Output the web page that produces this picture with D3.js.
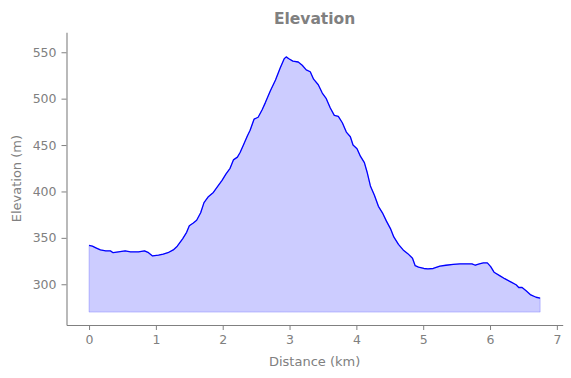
<html>
<head>
<script src="https://d3js.org/d3.v7.min.js"></script>
<style>
body { margin: 0; background: #fff; }
svg { display: block; font-family: 'DejaVu Sans', sans-serif; }
</style>
</head>
<body>
<div id="chart"></div>
<script>

// distance along the track (km)
var distance = [0, 0.05, 0.11, 0.17, 0.25, 0.32, 0.36, 0.44, 0.54, 0.62, 0.74, 0.83, 0.89, 0.95,
  1.04, 1.11, 1.18, 1.26, 1.32, 1.40, 1.46, 1.50, 1.56, 1.61, 1.67, 1.72, 1.78, 1.86, 1.93, 1.99,
  2.05, 2.11, 2.16, 2.22, 2.26, 2.31, 2.37, 2.41, 2.47, 2.53, 2.59, 2.64, 2.71, 2.79, 2.86, 2.92, 2.95, 2.99,
  3.05, 3.13, 3.19, 3.25, 3.31, 3.36, 3.43, 3.49, 3.55, 3.61, 3.67, 3.73, 3.79, 3.85, 3.91, 3.95,
  4.01, 4.06, 4.12, 4.16, 4.21, 4.27, 4.33, 4.39, 4.45, 4.51, 4.56, 4.63, 4.70, 4.77, 4.84, 4.88, 4.93,
  5.01, 5.07, 5.15, 5.25, 5.34, 5.45, 5.55, 5.67, 5.73, 5.78, 5.84, 5.90, 5.96,
  6.01, 6.06, 6.15, 6.22, 6.31, 6.39, 6.43, 6.48, 6.54, 6.61, 6.69, 6.75];

// elevation (m)
var elevation = [342, 341, 339, 337, 336, 336, 334, 335, 336, 335, 335, 336, 334, 330.5,
  331.5, 332.5, 334, 337, 341, 349, 356, 363, 366, 369, 377, 388, 394, 399, 406, 412,
  419, 425, 434, 437, 442, 450, 460, 466, 478, 480, 488, 496, 508, 520, 533, 543, 545, 543,
  540.5, 539.5, 536, 531, 529, 521, 515, 506, 500, 490, 482, 481, 474, 464, 459, 450,
  446, 438, 431, 421, 406, 396, 384, 377, 368, 360, 351, 343, 337, 333, 328, 320, 318.5,
  317, 316.5, 317, 319.5, 320.5, 321.5, 322, 322, 322, 320.5, 322, 323, 323,
  319, 313, 309, 306, 302.5, 299.5, 296.5, 296.5, 293, 288.5, 286, 285];

var baseline = 270;
var xTicks = [0, 1, 2, 3, 4, 5, 6, 7];
var yTicks = [300, 350, 400, 450, 500, 550];

var width = 571, height = 378;
var mLeft = 66.5, mRight = 562.7, mTop = 32.3, mBottom = 325;
var grey = "#808080";

var points = distance.map((d, i) => ({ x: d, y: elevation[i] }));

var svg = d3.select("#chart").append("svg").attr("width", width).attr("height", height);

var xScale = d3.scaleLinear().domain([-0.3375, 7.0875]).range([mLeft, mRight]);
var yScale = d3.scaleLinear().domain([256.1, 571.5]).range([mBottom, mTop]);

// filled area down to the baseline
var area = d3.area()
  .x(d => xScale(d.x))
  .y0(yScale(baseline))
  .y1(d => yScale(d.y));

svg.append("path")
  .datum(points)
  .attr("d", area)
  .attr("fill", "rgba(0,0,255,0.2)")
  .attr("stroke", "rgba(0,0,255,0.2)")
  .attr("stroke-width", 1);

// profile line
var line = d3.line()
  .x(d => xScale(d.x))
  .y(d => yScale(d.y));

svg.append("path")
  .datum(points)
  .attr("d", line)
  .attr("fill", "none")
  .attr("stroke", "#0000ff")
  .attr("stroke-width", 1.3)
  .attr("stroke-linejoin", "round");

// axes
var xAxis = svg.append("g")
  .attr("transform", "translate(0," + mBottom + ")")
  .call(d3.axisBottom(xScale).tickValues(xTicks).tickSize(5).tickPadding(5).tickSizeOuter(0));

var yAxis = svg.append("g")
  .attr("transform", "translate(" + mLeft + ",0)")
  .call(d3.axisLeft(yScale).tickValues(yTicks).tickSize(5).tickPadding(5).tickSizeOuter(0));

[xAxis, yAxis].forEach(function(ax) {
  ax.attr("font-family", "'DejaVu Sans', sans-serif").attr("font-size", 12.5);
  ax.select(".domain").attr("stroke", grey).attr("stroke-width", 1.1);
  ax.selectAll(".tick line").attr("stroke", grey);
  ax.selectAll(".tick text").attr("fill", grey);
});

// labels
svg.append("text")
  .attr("x", (mLeft + mRight) / 2).attr("y", 366)
  .attr("text-anchor", "middle")
  .style("font-size", "13px").style("fill", grey)
  .text("Distance (km)");

svg.append("text")
  .attr("transform", "translate(21," + ((mTop + mBottom) / 2) + ") rotate(-90)")
  .attr("text-anchor", "middle")
  .style("font-size", "13px").style("fill", grey)
  .text("Elevation (m)");

svg.append("text")
  .attr("x", (mLeft + mRight) / 2).attr("y", 24)
  .attr("text-anchor", "middle")
  .style("font-size", "15.5px").style("font-weight", "bold").style("fill", grey)
  .text("Elevation");

</script>
</body>
</html>
